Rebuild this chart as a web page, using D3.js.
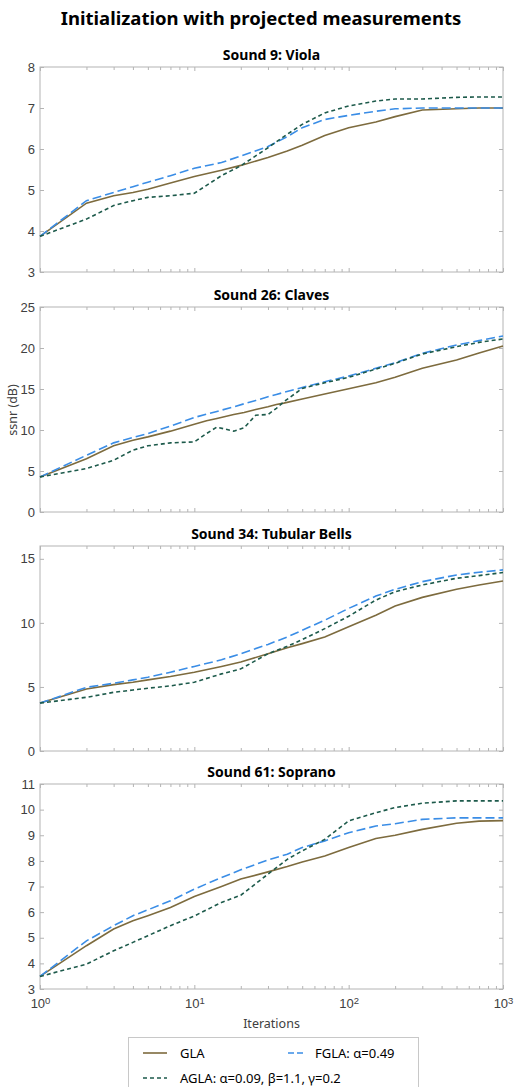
<!DOCTYPE html>
<html lang="en">
<head>
    <meta charset="UTF-8">
    <script src="https://d3js.org/d3.v7.min.js"></script>
    <style>
        body {
            margin: 0;
            padding: 0;
            background-color: #ffffff;
            font-family: 'Noto Sans', 'Open Sans', sans-serif;
        }

        svg {
            display: block;
        }

        .axis text {
            fill: #404040;
            font-size: 13px;
        }

        .axis line {
            stroke: #b4b4b4;
        }

        .frame {
            fill: none;
            stroke: #b4b4b4;
        }

        .curve {
            fill: none;
            stroke-width: 1.6;
        }
    </style>
</head>
<body>
    <svg id="chart"></svg>

    <script>
        // Data (ssnr in dB against iteration number)
        const iterations = [1, 2, 3, 4, 5, 7, 10, 15, 20, 30, 40, 50, 70, 100, 150, 200, 300, 500, 700, 1000];
        const iterationsClaves = [1, 2, 3, 4, 5, 7, 10, 12, 14, 18, 21, 25, 30, 34, 38, 50, 70, 100, 150, 200, 300, 500, 700, 1000];

        const violaGLA  = [3.87, 4.68, 4.86, 4.94, 5.02, 5.17, 5.33, 5.48, 5.60, 5.79, 5.95, 6.09, 6.33, 6.52, 6.66, 6.79, 6.95, 6.98, 7.00, 7.00];
        const violaFGLA = [3.87, 4.74, 4.94, 5.08, 5.19, 5.35, 5.53, 5.67, 5.83, 6.06, 6.30, 6.52, 6.72, 6.82, 6.92, 6.98, 7.00, 7.00, 7.00, 7.00];
        const violaAGLA = [3.87, 4.29, 4.62, 4.74, 4.82, 4.86, 4.92, 5.35, 5.59, 6.03, 6.36, 6.60, 6.88, 7.05, 7.17, 7.22, 7.22, 7.26, 7.27, 7.27];

        const clavesGLA  = [4.28, 6.50, 8.07, 8.76, 9.16, 9.86, 10.71, 11.12, 11.41, 11.89, 12.14, 12.50, 12.83, 13.12, 13.28, 13.77, 14.38, 15.03, 15.76, 16.42, 17.52, 18.53, 19.39, 20.24];
        const clavesFGLA = [4.28, 6.92, 8.43, 9.08, 9.57, 10.47, 11.53, 11.93, 12.26, 12.83, 13.20, 13.60, 14.05, 14.34, 14.58, 15.19, 15.89, 16.58, 17.52, 18.21, 19.35, 20.37, 20.90, 21.47];
        const clavesAGLA = [4.28, 5.30, 6.31, 7.54, 8.07, 8.43, 8.55, 9.57, 10.35, 9.86, 10.26, 11.81, 11.89, 12.63, 13.44, 15.07, 15.76, 16.42, 17.43, 18.13, 19.27, 20.16, 20.69, 21.10];

        const bellsGLA  = [3.74, 4.84, 5.18, 5.37, 5.55, 5.81, 6.15, 6.60, 6.94, 7.59, 8.06, 8.38, 8.90, 9.69, 10.60, 11.31, 11.99, 12.62, 12.96, 13.27];
        const bellsFGLA = [3.74, 4.97, 5.29, 5.55, 5.76, 6.15, 6.60, 7.12, 7.59, 8.32, 8.90, 9.42, 10.21, 11.13, 12.09, 12.62, 13.22, 13.74, 13.95, 14.14];
        const bellsAGLA = [3.74, 4.19, 4.58, 4.76, 4.90, 5.08, 5.37, 6.02, 6.41, 7.59, 8.17, 8.69, 9.55, 10.52, 11.78, 12.43, 12.96, 13.48, 13.69, 13.93];

        const sopranoGLA  = [3.49, 4.69, 5.34, 5.66, 5.86, 6.18, 6.61, 7.00, 7.29, 7.57, 7.78, 7.96, 8.19, 8.52, 8.87, 9.00, 9.23, 9.47, 9.55, 9.57];
        const sopranoFGLA = [3.49, 4.88, 5.47, 5.86, 6.09, 6.44, 6.90, 7.35, 7.65, 8.04, 8.26, 8.52, 8.78, 9.10, 9.36, 9.45, 9.62, 9.68, 9.68, 9.68];
        const sopranoAGLA = [3.49, 3.97, 4.49, 4.82, 5.08, 5.47, 5.85, 6.38, 6.66, 7.48, 8.06, 8.39, 8.84, 9.56, 9.88, 10.08, 10.25, 10.34, 10.34, 10.34];

        const panelTitles = ["Sound 9: Viola", "Sound 26: Claves", "Sound 34: Tubular Bells", "Sound 61: Soprano"];
        const yDomains = [[3, 8], [0, 25], [0, 16], [3, 11]];
        const yTicks = [[3, 4, 5, 6, 7, 8], [0, 5, 10, 15, 20, 25], [0, 5, 10, 15], [3, 4, 5, 6, 7, 8, 9, 10, 11]];
        const xMajorTicks = [1, 10, 100, 1000];
        const seriesNames = ["GLA", "FGLA: \u03b1=0.49", "AGLA: \u03b1=0.09, \u03b2=1.1, \u03b3=0.2"];

        const panels = [
            { x: iterations, series: [violaGLA, violaFGLA, violaAGLA] },
            { x: iterationsClaves, series: [clavesGLA, clavesFGLA, clavesAGLA] },
            { x: iterations, series: [bellsGLA, bellsFGLA, bellsAGLA] },
            { x: iterations, series: [sopranoGLA, sopranoFGLA, sopranoAGLA] }
        ];

        const styles = [
            { color: "#7d6b3e", dash: null },
            { color: "#3a8de6", dash: "9,4" },
            { color: "#1d5a4b", dash: "4,3" }
        ];

        const totalWidth = 514;
        const totalHeight = 1087;
        const left = 40;
        const plotWidth = 463;
        const plotHeight = 205;
        const panelTops = [67, 307, 546, 784];

        const svg = d3.select("#chart")
            .attr("width", totalWidth)
            .attr("height", totalHeight);

        // Main title
        svg.append("text")
            .attr("x", 261)
            .attr("y", 25)
            .attr("text-anchor", "middle")
            .attr("font-size", "18.5px")
            .attr("font-weight", "bold")
            .attr("fill", "#000")
            .text("Initialization with projected measurements");

        const x = d3.scaleLog()
            .domain([1, 1000])
            .range([0, plotWidth]);

        const minorTicks = x.ticks().filter(d => !xMajorTicks.includes(d));

        panels.forEach((p, i) => {
            const g = svg.append("g")
                .attr("transform", `translate(${left},${panelTops[i]})`);

            const y = d3.scaleLinear()
                .domain(yDomains[i])
                .range([plotHeight, 0]);

            // panel title
            g.append("text")
                .attr("x", plotWidth / 2)
                .attr("y", -7)
                .attr("text-anchor", "middle")
                .attr("font-size", "14px")
                .attr("font-weight", "bold")
                .attr("fill", "#000")
                .text(panelTitles[i]);

            // y axes (ticks pointing inward on both sides)
            g.append("g")
                .attr("class", "axis")
                .call(d3.axisLeft(y).tickValues(yTicks[i]).tickFormat(d3.format("d"))
                    .tickSizeInner(-4).tickSizeOuter(0).tickPadding(5))
                .call(a => a.select(".domain").remove());

            g.append("g")
                .attr("class", "axis")
                .attr("transform", `translate(${plotWidth},0)`)
                .call(d3.axisLeft(y).tickValues(yTicks[i]).tickSize(4).tickFormat(""))
                .call(a => a.select(".domain").remove());

            // x axes: bottom and top, major + minor ticks
            const isLast = i === panels.length - 1;
            const bottom = g.append("g")
                .attr("class", "axis")
                .attr("transform", `translate(0,${plotHeight})`)
                .call(d3.axisBottom(x).tickValues(xMajorTicks).tickSizeInner(-4).tickSizeOuter(0).tickPadding(10)
                    .tickFormat(d => isLast ? "10" : ""))
                .call(a => a.select(".domain").remove());

            if (isLast) {
                bottom.selectAll(".tick text")
                    .append("tspan")
                    .attr("dy", "-0.45em")
                    .attr("font-size", "9.5px")
                    .text(d => Math.round(Math.log10(d)));
            }

            g.append("g")
                .attr("class", "axis")
                .attr("transform", `translate(0,${plotHeight})`)
                .call(d3.axisBottom(x).tickValues(minorTicks).tickSizeInner(-3).tickSizeOuter(0).tickFormat(""))
                .call(a => a.select(".domain").remove());

            g.append("g")
                .attr("class", "axis")
                .call(d3.axisTop(x).tickValues(xMajorTicks).tickSizeInner(-4).tickSizeOuter(0).tickFormat(""))
                .call(a => a.select(".domain").remove());

            g.append("g")
                .attr("class", "axis")
                .call(d3.axisTop(x).tickValues(minorTicks).tickSizeInner(-3).tickSizeOuter(0).tickFormat(""))
                .call(a => a.select(".domain").remove());

            g.append("rect")
                .attr("class", "frame")
                .attr("x", 0)
                .attr("y", 0)
                .attr("width", plotWidth)
                .attr("height", plotHeight);

            const line = d3.line()
                .x(d => x(d[0]))
                .y(d => y(d[1]));

            p.series.forEach((vals, k) => {
                g.append("path")
                    .datum(p.x.map((it, j) => [it, vals[j]]))
                    .attr("class", "curve")
                    .attr("stroke", styles[k].color)
                    .attr("stroke-dasharray", styles[k].dash)
                    .attr("d", line);
            });
        });

        // Axis labels
        svg.append("text")
            .attr("transform", "translate(17,410) rotate(-90)")
            .attr("text-anchor", "middle")
            .attr("font-size", "12.5px")
            .attr("fill", "#404040")
            .text("ssnr (dB)");

        svg.append("text")
            .attr("x", left + plotWidth / 2)
            .attr("y", 1028)
            .attr("text-anchor", "middle")
            .attr("font-size", "12.5px")
            .attr("fill", "#404040")
            .text("Iterations");

        // Legend
        const legend = svg.append("g");
        legend.append("rect")
            .attr("x", 128.5)
            .attr("y", 1037.5)
            .attr("width", 290)
            .attr("height", 60)
            .attr("fill", "#fff")
            .attr("stroke", "#c8c8c8");

        const legendPos = [
            { x1: 143, x2: 167, tx: 180, y: 1053 },
            { x1: 288, x2: 303, tx: 315, y: 1053 },
            { x1: 143, x2: 167, tx: 180, y: 1078 }
        ];

        legendPos.forEach((lp, k) => {
            legend.append("line")
                .attr("x1", lp.x1)
                .attr("x2", lp.x2)
                .attr("y1", lp.y)
                .attr("y2", lp.y)
                .attr("stroke", styles[k].color)
                .attr("stroke-width", 1.6)
                .attr("stroke-dasharray", k === 1 ? "6,3" : styles[k].dash);
            legend.append("text")
                .attr("x", lp.tx)
                .attr("y", lp.y + 4.5)
                .attr("font-size", "13px")
                .attr("fill", "#000")
                .text(seriesNames[k]);
        });
    </script>
</body>
</html>
